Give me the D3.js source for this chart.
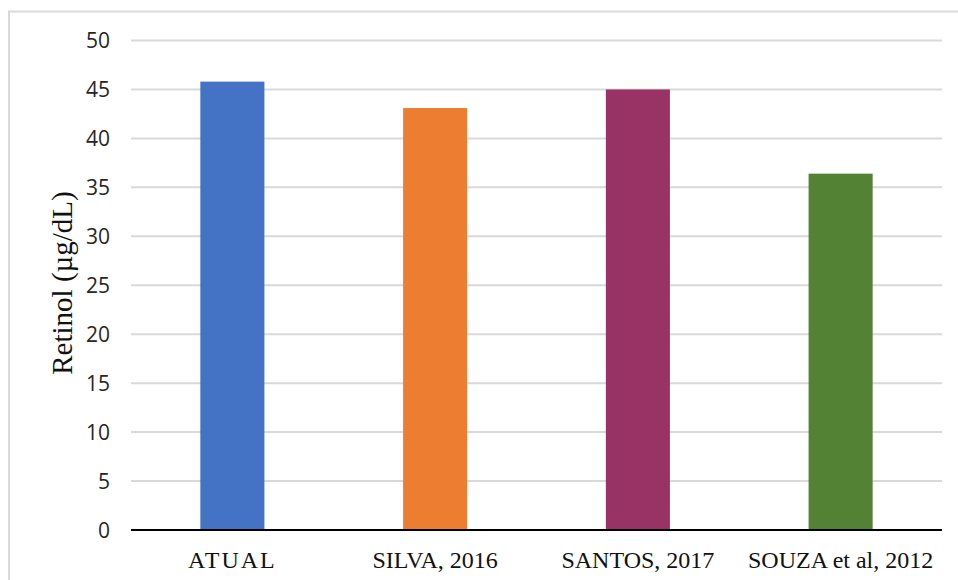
<!DOCTYPE html>
<html>
<head>
<meta charset="utf-8">
<style>
  body { margin: 0; background: #fff; }
  svg { display: block; }
</style>
</head>
<body>
<svg class="chart" width="958" height="580"></svg>

<script src="https://d3js.org/d3.v7.min.js"></script>
<script>
  // data
  const categories = ["ATUAL", "SILVA, 2016", "SANTOS, 2017", "SOUZA et al, 2012"];
  const values = [45.8, 43.1, 45.0, 36.4];
  const colors = ["#4472C4", "#ED7D31", "#993366", "#548235"];
  const yTicks = [0, 5, 10, 15, 20, 25, 30, 35, 40, 45, 50];
  const yTitle = "Retinol (µg/dL)";

  const width = 958;
  const height = 580;
  const margin = { top: 40.5, right: 16, bottom: 50, left: 131 };

  const svg = d3.select("svg.chart");

  // frame: only the top and left edges show in the original
  svg.append("path")
    .attr("d", `M9,${height} V11.5 H${width}`)
    .attr("fill", "none")
    .attr("stroke", "#d9d9d9")
    .attr("stroke-width", 2);

  const x = d3.scaleBand()
    .domain(categories)
    .range([margin.left, width - margin.right])
    .paddingInner(0.684)
    .paddingOuter(0.342);

  const y = d3.scaleLinear()
    .domain([0, 50])
    .range([height - margin.bottom, margin.top]);

  // gridlines
  svg.append("g")
    .selectAll("line")
    .data(yTicks.filter(d => d > 0))
    .join("line")
    .attr("x1", margin.left)
    .attr("x2", width - margin.right)
    .attr("y1", d => y(d))
    .attr("y2", d => y(d))
    .attr("stroke", "#d9d9d9")
    .attr("stroke-width", 2);

  // y tick labels
  svg.append("g")
    .selectAll("text")
    .data(yTicks)
    .join("text")
    .attr("x", 110)
    .attr("y", d => y(d))
    .attr("dy", "0.36em")
    .attr("text-anchor", "end")
    .attr("font-family", "'Open Sans', 'Noto Sans', sans-serif")
    .attr("font-size", 21)
    .attr("fill", "#262626")
    .text(d => d);

  // bars
  svg.append("g")
    .selectAll("rect")
    .data(categories)
    .join("rect")
    .attr("x", d => x(d))
    .attr("width", x.bandwidth())
    .attr("y", (d, i) => y(values[i]))
    .attr("height", (d, i) => y(0) - y(values[i]))
    .attr("fill", (d, i) => colors[i]);

  // x axis line
  svg.append("line")
    .attr("x1", margin.left)
    .attr("x2", width - margin.right)
    .attr("y1", y(0))
    .attr("y2", y(0))
    .attr("stroke", "#000")
    .attr("stroke-width", 2);

  // category labels
  svg.append("g")
    .selectAll("text")
    .data(categories)
    .join("text")
    .attr("x", d => x(d) + x.bandwidth() / 2)
    .attr("y", 568)
    .attr("text-anchor", "middle")
    .attr("font-family", "'Liberation Serif', 'Times New Roman', serif")
    .attr("font-size", 24)
    .attr("letter-spacing", d => d === "ATUAL" ? 2 : 0)
    .attr("fill", "#111")
    .text(d => d);

  // y axis title
  svg.append("text")
    .attr("transform", `translate(72, 283) rotate(-90)`)
    .attr("text-anchor", "middle")
    .attr("font-family", "'Liberation Serif', 'Times New Roman', serif")
    .attr("font-size", 29)
    .attr("fill", "#111")
    .text(yTitle);
</script>
</body>
</html>
